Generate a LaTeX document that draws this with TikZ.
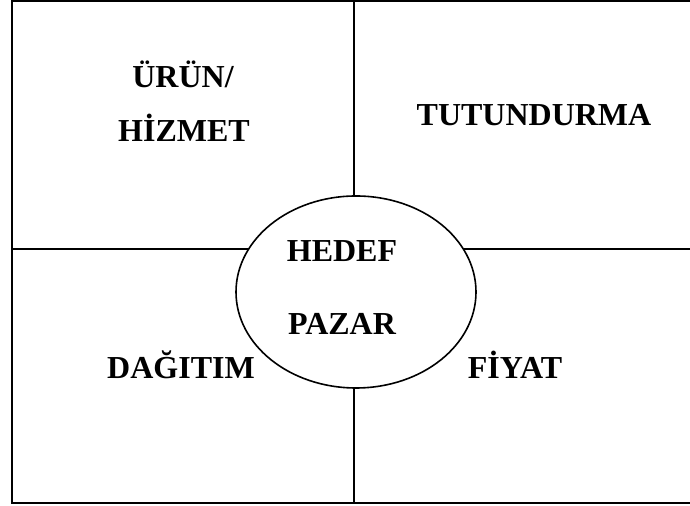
\documentclass[tikz,border=0pt]{standalone}
\usepackage{fontspec}
\setmainfont{Liberation Serif}
\usetikzlibrary{shapes.geometric}

\tikzset{
  mixlabel/.style={anchor=base,font=\fontsize{16pt}{19pt}\selectfont\bfseries,inner sep=0pt},
  frame/.style={line width=1.35pt},
  target/.style={ellipse,draw,fill=white,line width=0.8pt,minimum width=120pt,minimum height=96pt,inner sep=0pt}
}

\begin{document}
\begin{tikzpicture}[x=0.5pt,y=0.5pt]
\useasboundingbox (0,0) rectangle (690,506);
\clip (0,0) rectangle (690,506);
% quadrants
\draw[frame] (12,3) rectangle (697,505);
\draw[frame] (354,3) -- (354,505);
\draw[frame] (12,257) -- (697,257);
% centre
\node[target] (market) at (356,214) {};
\node[mixlabel] (hedef) at (342,244) {HEDEF};
\node[mixlabel] (pazar) at (342,171) {PAZAR};
% four P
\node[mixlabel] (urun) at (183,418) {ÜRÜN/};
\node[mixlabel] (hizmet) at (184,364) {HİZMET};
\node[mixlabel] (tutundurma) at (534,380) {TUTUNDURMA};
\node[mixlabel] (dagitim) at (181,127) {DAĞITIM};
\node[mixlabel] (fiyat) at (515,127) {FİYAT};
\end{tikzpicture}
\end{document}
